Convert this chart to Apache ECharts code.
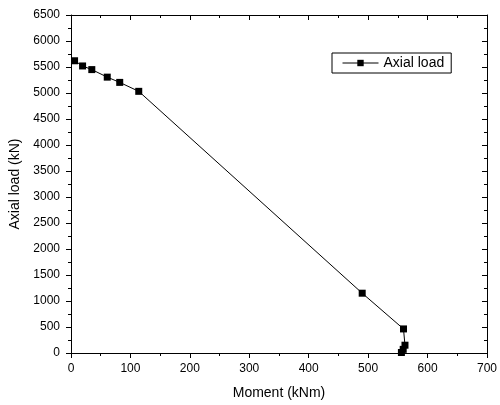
<!DOCTYPE html>
<html>
<head>
<meta charset="utf-8">
<script src="https://cdn.jsdelivr.net/npm/echarts@6/dist/echarts.min.js"></script>
<style>html,body{margin:0;padding:0;background:#fff;}#c{width:500px;height:405px;}</style>
</head>
<body>
<div id="c"></div>
<script>
const seriesName = 'Axial load';
const moment = [6, 19.5, 35, 61, 82, 114, 490, 559.5, 562, 559, 556];
const axialLoad = [5620, 5520, 5450, 5305, 5204, 5032, 1150, 463, 150, 70, 10];
const xTitle = 'Moment (kNm)';
const yTitle = 'Axial load (kN)';

const font = 'Liberation Sans, Arial, sans-serif';
const data = moment.map((m, i) => [m, axialLoad[i]]);
const black = '#000';

const chart = echarts.init(document.getElementById('c'), null, {renderer: 'canvas'});
const baseX = {
  type: 'value', min: 0, max: 700, interval: 100,
  axisLine: {show: true, onZero: false, lineStyle: {color: black, width: 1}},
  splitLine: {show: false},
  minorTick: {show: true, splitNumber: 2, length: 3, lineStyle: {color: black}},
};
const baseY = {
  type: 'value', min: 0, max: 6500, interval: 500,
  axisLine: {show: true, onZero: false, lineStyle: {color: black, width: 1}},
  splitLine: {show: false},
  minorTick: {show: true, splitNumber: 2, length: 3, lineStyle: {color: black}},
};
chart.setOption({
  animation: false,
  backgroundColor: '#fff',
  textStyle: {fontFamily: font},
  grid: {left: 71, right: 9, top: 15, bottom: 49, containLabel: false},
  legend: {
    show: true,
    data: [seriesName],
    left: 332, top: 53,
    orient: 'vertical',
    borderColor: black, borderWidth: 1,
    padding: [3, 7, 3, 10],
    itemWidth: 36, itemHeight: 8, itemGap: 0,
    lineStyle: {width: 1},
    textStyle: {fontFamily: font, fontSize: 14, color: black},
  },
  xAxis: [
    Object.assign({}, baseX, {
      position: 'bottom',
      name: xTitle, nameLocation: 'middle', nameGap: 33,
      nameTextStyle: {fontFamily: font, fontSize: 14, color: black},
      axisTick: {show: true, inside: false, length: 5, lineStyle: {color: black}},
      axisLabel: {show: true, fontFamily: font, fontSize: 12, color: black, margin: 10},
    }),
    Object.assign({}, baseX, {
      position: 'top',
      axisTick: {show: true, inside: true, length: 5, lineStyle: {color: black}},
      minorTick: {show: true, splitNumber: 2, length: 3, lineStyle: {color: black}},
      axisLabel: {show: false},
    }),
  ],
  yAxis: [
    Object.assign({}, baseY, {
      position: 'left',
      name: yTitle, nameLocation: 'middle', nameGap: 45,
      nameTextStyle: {fontFamily: font, fontSize: 14, color: black},
      axisTick: {show: true, inside: false, length: 5, lineStyle: {color: black}},
      axisLabel: {show: true, fontFamily: font, fontSize: 12, color: black, margin: 11,
        formatter: v => String(v)},
    }),
    Object.assign({}, baseY, {
      position: 'right',
      axisTick: {show: true, inside: true, length: 5, lineStyle: {color: black}},
      axisLabel: {show: false},
    }),
  ],
  series: [{
    name: seriesName,
    type: 'line',
    xAxisIndex: 0, yAxisIndex: 0,
    data: data,
    symbol: 'rect', symbolSize: 7,
    showAllSymbol: true,
    lineStyle: {color: black, width: 1},
    itemStyle: {color: black},
    color: black,
    clip: false,
  }],
});
</script>
</body>
</html>
